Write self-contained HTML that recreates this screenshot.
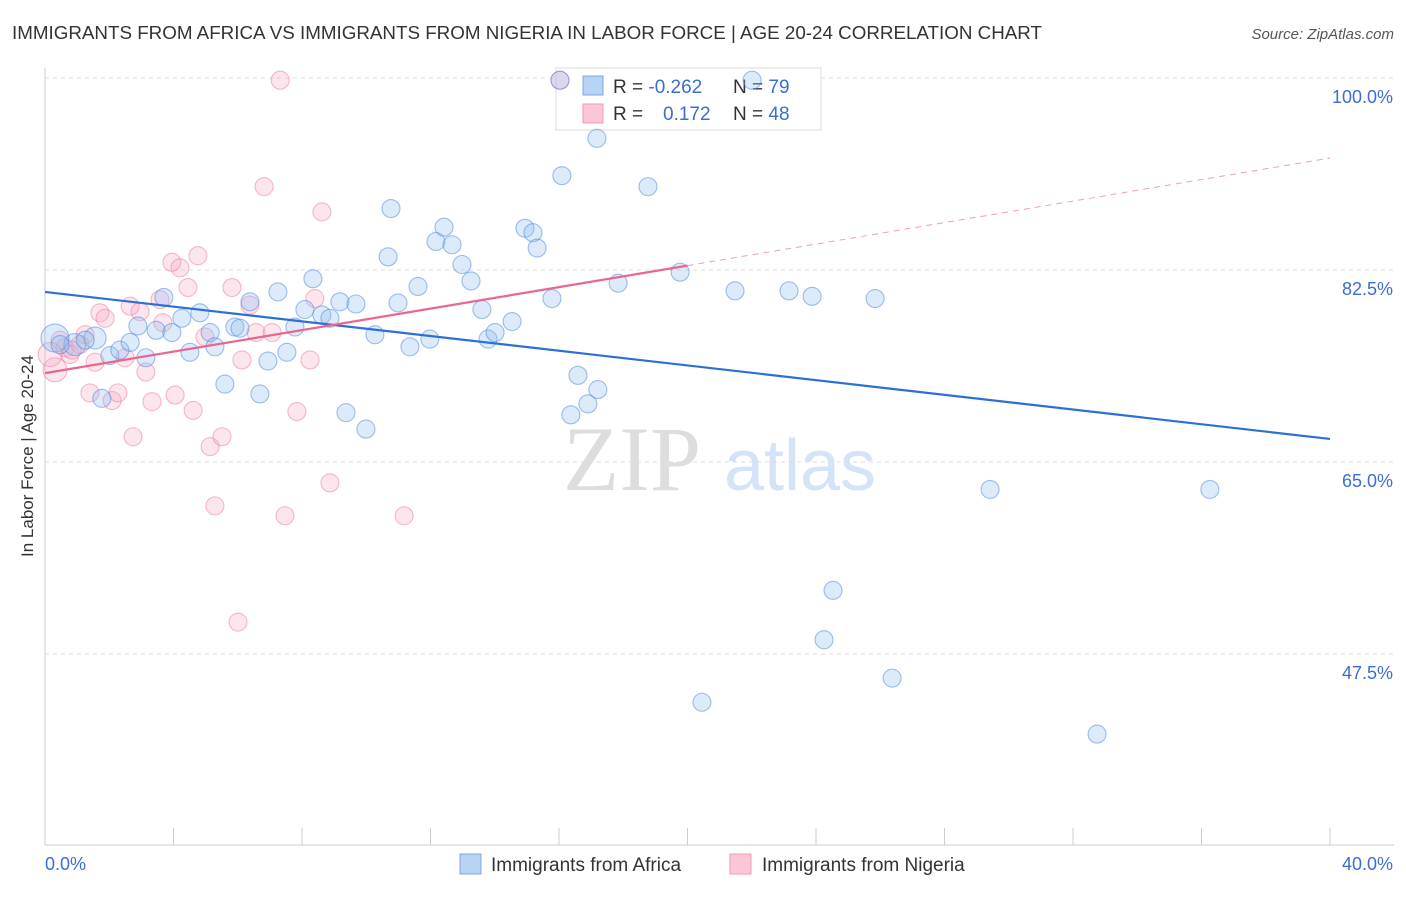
<!DOCTYPE html>
<html><head><meta charset="utf-8"><style>
body{margin:0;background:#fff;font-family:"Liberation Sans",sans-serif;}
svg text{font-family:"Liberation Sans",sans-serif;}
</style></head><body>
<svg id="chart" width="1406" height="892">
<text x="12" y="39" font-size="18.8" fill="#333">IMMIGRANTS FROM AFRICA VS IMMIGRANTS FROM NIGERIA IN LABOR FORCE | AGE 20-24 CORRELATION CHART</text>
<text x="1394" y="39" font-size="15" fill="#555" text-anchor="end" font-style="italic">Source: ZipAtlas.com</text>
<text x="33" y="456" font-size="17" fill="#333" text-anchor="middle" transform="rotate(-90 33 456)">In Labor Force | Age 20-24</text>
<g><text x="632" y="490" font-size="92" fill="#ddd" font-family="Liberation Serif" text-anchor="middle" style="font-family:'Liberation Serif',serif">ZIP</text><text x="800" y="490" font-size="72" fill="#d4e3f5" text-anchor="middle">atlas</text></g>
<g id="grid"></g><g id="axes"></g>
<g>
<rect x="556" y="68" width="265" height="62" fill="#fff" stroke="#ddd"/>
<rect x="583" y="76" width="20" height="19" fill="#b9d3f5" stroke="#7aa7e6"/>
<rect x="583" y="104" width="20" height="19" fill="#fbc6d5" stroke="#f09ab3"/>
<text x="613" y="93" font-size="19" fill="#333">R = <tspan fill="#3a6fd0">-0.262</tspan></text>
<text x="733" y="93" font-size="19" fill="#333">N = <tspan fill="#3a6fd0">79</tspan></text>
<text x="613" y="120" font-size="19" fill="#333">R = <tspan fill="#3a6fd0" x="663">0.172</tspan></text>
<text x="733" y="120" font-size="19" fill="#333">N = <tspan fill="#3a6fd0">48</tspan></text>
</g>
<g id="marks"></g><g id="lines"></g>
<g>
<rect x="460" y="854" width="21" height="20" fill="#b9d3f5" stroke="#7aa7e6"/>
<text x="491" y="871" font-size="19" fill="#333">Immigrants from Africa</text>
<rect x="730" y="854" width="21" height="20" fill="#fbc6d5" stroke="#f09ab3"/>
<text x="762" y="871" font-size="19" fill="#333">Immigrants from Nigeria</text>
</g>
</svg>
<script>
const blueX=[0.31,0.93,1.56,2.02,2.33,2.65,2.89,3.14,3.46,3.70,3.95,4.26,4.51,4.82,5.14,5.29,5.60,5.91,6.07,6.38,6.69,6.94,7.25,7.53,7.78,8.09,8.34,8.62,8.87,9.18,9.37,9.68,9.99,10.27,10.68,10.77,10.99,11.36,11.61,11.98,12.17,12.42,12.67,12.98,13.26,13.60,13.79,14.01,14.54,14.94,15.19,15.32,15.78,16.03,16.09,16.37,16.59,16.90,17.21,17.18,17.84,18.77,19.77,20.45,21.48,22.01,23.16,23.88,24.25,24.53,25.84,26.37,29.42,32.75,36.26,1.77,0.47,1.25];
const blueY=[76.3,75.7,76.3,74.7,75.2,75.9,77.4,74.5,77.0,80.0,76.8,78.1,75.0,78.6,76.8,75.5,72.1,77.3,77.2,79.6,71.2,74.2,80.5,75.0,77.3,78.9,81.7,78.4,78.1,79.6,69.5,79.4,68.0,76.6,83.7,88.1,79.5,75.5,81.0,76.2,85.1,86.4,84.8,83.0,81.5,78.9,76.2,76.8,77.8,86.3,85.9,84.5,79.9,99.8,91.1,69.3,72.9,70.3,71.6,94.5,81.3,90.1,82.3,43.1,80.6,99.8,80.6,80.1,48.8,53.3,79.9,45.3,62.5,40.2,62.5,70.8,75.7,76.1];
const pinkX=[0.31,0.47,0.62,0.78,1.09,1.25,1.40,1.56,1.71,1.87,2.09,2.27,2.49,2.65,2.74,2.96,3.14,3.33,3.58,3.67,3.95,4.05,4.20,4.45,4.61,4.76,4.98,5.14,5.29,5.51,5.82,6.01,6.13,6.38,6.57,6.82,7.07,7.32,7.47,7.84,8.25,8.40,8.62,8.87,11.18,16.03,0.84,0.16];
const pinkY=[73.4,76.1,75.4,74.8,75.7,76.6,71.3,74.1,78.6,78.1,70.6,71.3,74.5,79.2,67.3,78.7,73.2,70.5,79.8,77.7,83.2,71.1,82.7,80.9,69.7,83.8,76.4,66.4,61.0,67.3,80.9,50.4,74.3,79.3,76.8,90.1,76.8,99.8,60.1,69.6,74.3,79.9,87.8,63.1,60.1,99.8,75.2,74.8];
const blueTrend=[80.5,67.1];
const pinkTrend=[73.1,92.7];
const yTicks=[100,82.5,65,47.5];
const ns="http://www.w3.org/2000/svg";
const X=v=>45+v/40*1285, Y=v=>78+(100-v)*10.971;
function mk(t,a,p){const e=document.createElementNS(ns,t);for(const k in a)e.setAttribute(k,a[k]);document.getElementById(p).appendChild(e);return e;}
yTicks.forEach(t=>{
 const g=mk('line',{x1:45,x2:1394,y1:Y(t),y2:Y(t),stroke:'#ddd','stroke-dasharray':'4,4'},'grid');
 
 
 const tx=mk('text',{x:1393,y:Y(t)+25,'font-size':18,fill:'#3a6fd0','text-anchor':'end'},'axes');
 tx.textContent=t.toFixed(1)+'%';
 
 
});
mk('line',{x1:45,x2:45,y1:68,y2:845,stroke:'#ccc'},'axes');
mk('line',{x1:45,x2:1394,y1:845,y2:845,stroke:'#ccc'},'axes');
for(let i=1;i<=10;i++){const t=mk('line',{x1:X(i*4),x2:X(i*4),y1:828,y2:845,stroke:'#ccc'},'axes');}
const l0=mk('text',{x:45,y:870,'font-size':18,fill:'#3a6fd0'},'axes');l0.textContent='0.0%';


const l1=mk('text',{x:1393,y:870,'font-size':18,fill:'#3a6fd0','text-anchor':'end'},'axes');l1.textContent='40.0%';


pinkX.forEach((x,i)=>{const c=mk('circle',{cx:X(x),cy:Y(pinkY[i]),r:(i<1||i==47)?12:9,fill:'rgba(248,170,195,0.3)',stroke:'rgba(235,120,155,0.5)','stroke-width':1.1},'marks');
 
 });
blueX.forEach((x,i)=>{const c=mk('circle',{cx:X(x),cy:Y(blueY[i]),r:i==0?14:(i<3?11:9),fill:'rgba(150,190,240,0.33)',stroke:'rgba(70,130,220,0.5)','stroke-width':1.1},'marks');
 
 });
const bl=mk('line',{x1:X(0),y1:Y(blueTrend[0]),x2:X(40),y2:Y(blueTrend[1]),stroke:'#2c6fd6','stroke-width':2.2},'lines');


const pm=pinkTrend[0]+(pinkTrend[1]-pinkTrend[0])/2;
const pl=mk('line',{x1:X(0),y1:Y(pinkTrend[0]),x2:X(20),y2:Y(pm),stroke:'#e8668f','stroke-width':2.2},'lines');


const pd=mk('line',{x1:X(20),y1:Y(pm),x2:X(40),y2:Y(pinkTrend[1]),stroke:'#eba0b6','stroke-width':1,'stroke-dasharray':'6,5'},'lines');


</script>
</body></html>
